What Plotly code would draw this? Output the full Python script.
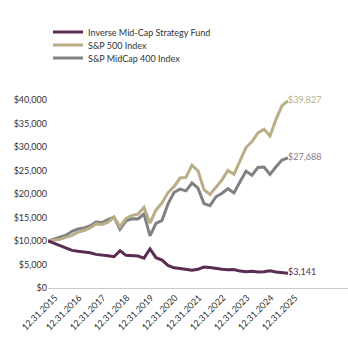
import plotly.graph_objects as go

years = list(range(2015, 2026))
tick_labels = [f"12.31.{y}" for y in years]
quarters = list(range(41))

fund = [10000, 9500, 9050, 8400, 8000, 7800, 7650, 7500, 7150, 7080, 6860, 6650,
        7950, 6950, 6850, 6800, 6350, 8300, 6450, 5950, 4800, 4300, 4150, 4000,
        3800, 4000, 4450, 4350, 4100, 4000, 3900, 3950, 3600, 3450, 3550, 3400,
        3450, 3650, 3400, 3250, 3141]
sp500 = [10000, 10135, 10384, 10784, 11196, 11876, 12243, 12791, 13640, 13536,
         14000, 15079, 13040, 14821, 15458, 15721, 17147, 13786, 16618, 18102,
         20302, 21555, 23398, 23534, 26131, 24929, 20918, 19897, 21401, 23006,
         25017, 24199, 27027, 29881, 31160, 32996, 33791, 32348, 35889, 38801, 39827]
mid400 = [10000, 10378, 10792, 11239, 12074, 12550, 12797, 13209, 14035, 13927,
          14524, 15085, 12478, 14286, 14722, 14709, 15747, 11070, 13735, 14390,
          17897, 20308, 21047, 20677, 22331, 21241, 17966, 17524, 19413, 20153,
          21130, 20243, 22605, 24854, 23997, 25662, 25749, 24178, 25801, 27233, 27688]

names = ["Inverse Mid-Cap Strategy Fund", "S&P 500 Index", "S&P MidCap 400 Index"]
series = [fund, sp500, mid400]
colors = ["#5b2c52", "#b9ae86", "#818083"]
legends = ["legend", "legend2", "legend3"]

FONT = "Lato"

fig = go.Figure()
for idx in [2, 1, 0]:
    vals = series[idx]
    texts = [""] * (len(vals) - 1) + [f"${vals[-1]:,}"]
    fig.add_trace(go.Scatter(
        x=quarters, y=vals, name=names[idx], mode="lines+text",
        text=texts, textposition="middle right",
        textfont=dict(color=colors[idx], size=9, family=FONT),
        line=dict(color=colors[idx], width=3),
        legend=legends[idx], cliponaxis=False, hoverinfo="skip",
        showlegend=True,
    ))

leg_common = dict(font=dict(size=9, family=FONT, color="#333333"), bgcolor="rgba(0,0,0,0)",
                  borderwidth=0, xanchor="left", yanchor="middle", itemwidth=30)

def px2paper_y(py):
    return (288 - py) / 188.0
def px2paper_x(px):
    return (px - 48) / 300.0

fig.update_layout(
    width=348, height=340,
    showlegend=True,
    margin=dict(l=48, r=0, t=100, b=52),
    paper_bgcolor="white", plot_bgcolor="white",
    font=dict(family=FONT, size=9, color="#333333"),
    legend=dict(x=px2paper_x(48), y=px2paper_y(32), **leg_common),
    legend2=dict(x=px2paper_x(48), y=px2paper_y(45), **leg_common),
    legend3=dict(x=px2paper_x(48), y=px2paper_y(58), **leg_common),
    xaxis=dict(range=[0, 50], tickvals=[4 * i for i in range(11)], ticktext=tick_labels,
               tickangle=-45, showgrid=False, zeroline=False, showline=True,
               linecolor="#cccccc", linewidth=1, ticks="", ticklabelshift=7,
               tickfont=dict(size=9, family=FONT, color="#333333")),
    yaxis=dict(range=[0, 40000], tickvals=[0, 5000, 10000, 15000, 20000, 25000, 30000, 35000, 40000],
               ticktext=["$0", "$5,000", "$10,000", "$15,000", "$20,000", "$25,000",
                         "$30,000", "$35,000", "$40,000"],
               showgrid=False, zeroline=False, showline=False, ticks="",
               tickfont=dict(size=9, family=FONT, color="#333333")),
)

fig.write_html("out.html")
